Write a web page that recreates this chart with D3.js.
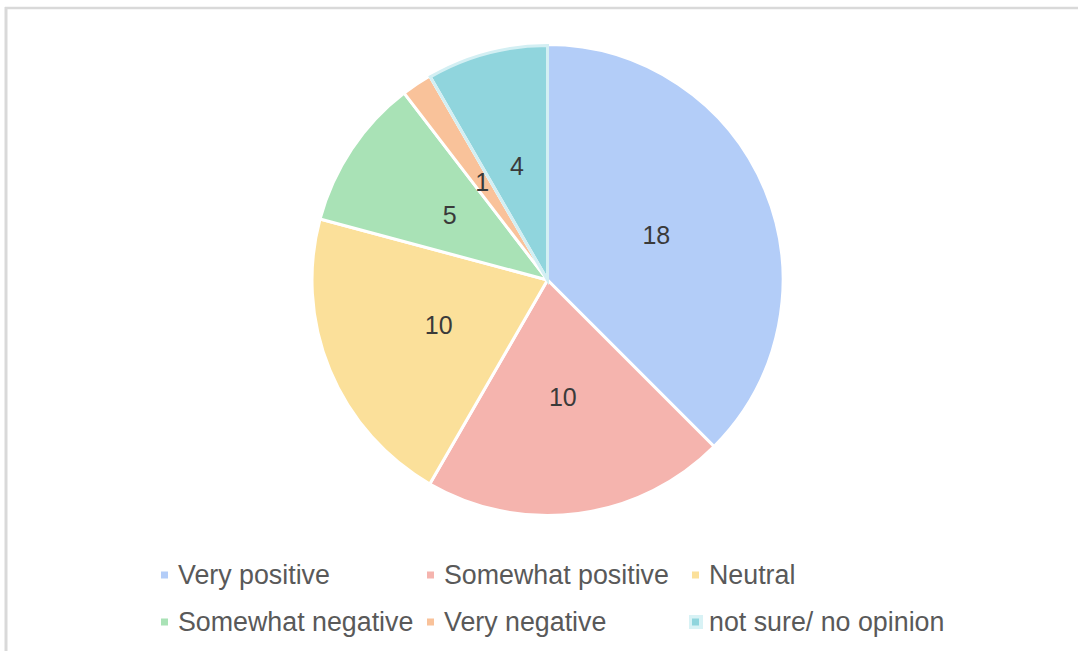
<!DOCTYPE html>
<html>
<head>
<meta charset="utf-8">
<script src="https://cdn.jsdelivr.net/npm/d3@7"></script>
<style>
  html, body { margin: 0; padding: 0; background: #fff; }
  svg { display: block; }
</style>
</head>
<body>
<svg id="chart" width="1078" height="651"></svg>
<script>
const categories = ["Very positive", "Somewhat positive", "Neutral", "Somewhat negative", "Very negative", "not sure/ no opinion"];
const values = [18, 10, 10, 5, 1, 4];
const colors = ["#b3cdf8", "#f5b4ae", "#fbe09a", "#a9e2b6", "#f9c29a", "#90d5dd"];
const legendRows = [[0, 1, 2], [3, 4, 5]];

const svg = d3.select("#chart");
const W = 1078, H = 651;

// frame
svg.append("line").attr("x1", 5).attr("x2", W).attr("y1", 8).attr("y2", 8)
  .attr("stroke", "#d9d9d9").attr("stroke-width", 2.5);
svg.append("line").attr("x1", 6).attr("x2", 6).attr("y1", 7).attr("y2", H)
  .attr("stroke", "#d9d9d9").attr("stroke-width", 3);

const cx = 547.5, cy = 280, R = 235.5;
const data = categories.map((c, i) => ({ cat: c, value: values[i], idx: i }));
const pie = d3.pie().value(d => d.value).sort(null).startAngle(0).endAngle(2 * Math.PI);
const arcs = pie(data);
const arc = d3.arc().innerRadius(0).outerRadius(R);
const labelArc = d3.arc().innerRadius(R / 2).outerRadius(R / 2);

const g = svg.append("g").attr("transform", `translate(${cx},${cy})`);
g.selectAll("path.slice").data(arcs).enter().append("path")
  .attr("class", "slice")
  .attr("d", arc)
  .attr("fill", (d, i) => colors[i])
  .attr("stroke", "#ffffff")
  .attr("stroke-width", 3)
  .attr("stroke-linejoin", "round");

// highlight outline of the last (selected) slice
g.append("path").datum(arcs[5])
  .attr("d", d3.arc().innerRadius(0).outerRadius(R - 1))
  .attr("fill", "none")
  .attr("stroke", "#d3eff3")
  .attr("stroke-width", 3);

g.selectAll("text.lbl").data(arcs).enter().append("text")
  .attr("class", "lbl")
  .attr("transform", d => `translate(${labelArc.centroid(d)})`)
  .attr("text-anchor", "middle")
  .attr("dominant-baseline", "central")
  .attr("font-family", "Liberation Sans, Arial, sans-serif")
  .attr("font-size", 25)
  .attr("fill", "#3a3a3a")
  .text(d => d.data.value);

// legend
const colX = [161, 427, 692];
const rowY = [575, 622];
legendRows.forEach((row, r) => {
  row.forEach((idx, c) => {
    const lg = svg.append("g").attr("transform", `translate(${colX[c]},${rowY[r]})`);
    if (idx === 5) {
      lg.append("rect").attr("x", -3).attr("y", -7).attr("width", 14).attr("height", 14)
        .attr("fill", "#d8f2f5");
    }
    lg.append("rect").attr("x", 0).attr("y", -3.5).attr("width", 7).attr("height", 7)
      .attr("fill", colors[idx]);
    lg.append("text").attr("x", 17).attr("y", 0)
      .attr("dominant-baseline", "central")
      .attr("font-family", "Liberation Sans, Arial, sans-serif")
      .attr("font-size", 26.8)
      .attr("fill", "#595959")
      .text(categories[idx]);
  });
});
</script>
</body>
</html>
